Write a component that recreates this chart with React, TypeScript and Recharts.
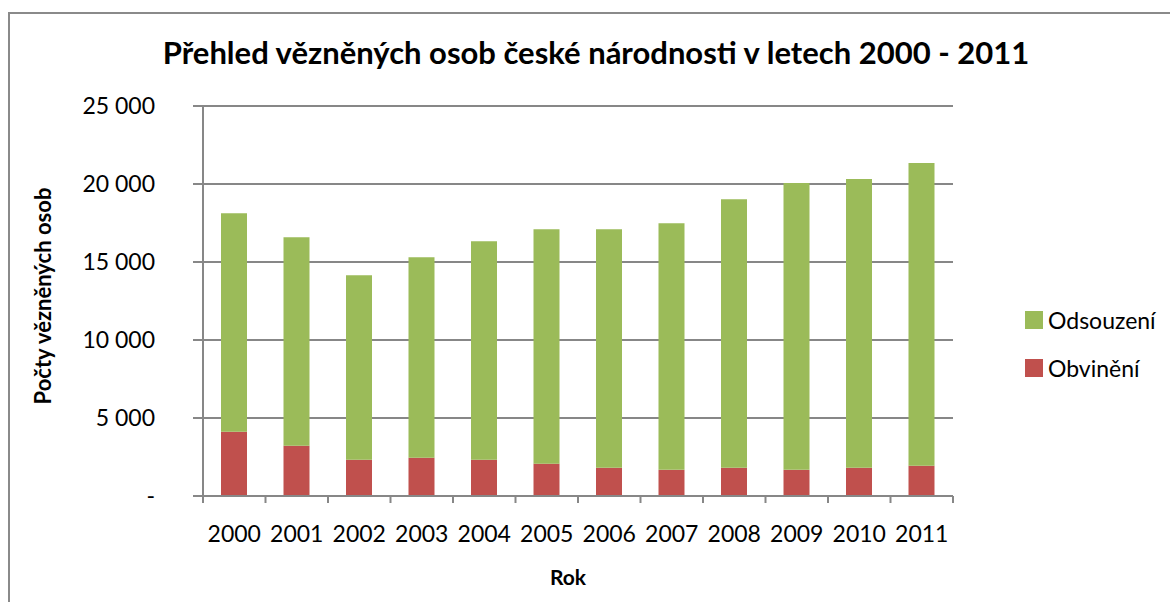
import React from 'react';
import { BarChart, Bar, XAxis, YAxis, CartesianGrid } from 'recharts';

const years = ['2000', '2001', '2002', '2003', '2004', '2005', '2006', '2007', '2008', '2009', '2010', '2011'];
const obvineni = [4120, 3220, 2320, 2450, 2320, 2070, 1810, 1680, 1810, 1680, 1810, 1940];
const odsouzeni = [14010, 13370, 11830, 12860, 14015, 15035, 15295, 15810, 17220, 18380, 18505, 19400];
const yTicks = [0, 5000, 10000, 15000, 20000, 25000];
const legendItems = [
  { name: 'Odsouzení', color: '#9BBB59' },
  { name: 'Obvinění', color: '#C0504D' },
];

const data = years.map((rok, i) => ({ rok, obvineni: obvineni[i], odsouzeni: odsouzeni[i] }));

const W = 1170;
const H = 602;
const PLOT_LEFT = 203;
const PLOT_RIGHT = 953;
const BAND = (PLOT_RIGHT - PLOT_LEFT) / years.length;
const GRID = '#878787';
const FONT = 'Lato, "Open Sans", sans-serif';

const formatY = (v: number) => (v === 0 ? '-' : `${Math.round(v / 1000)} 000`);

const XTick = (props: any) => {
  const { x, y, payload, index } = props;
  const last = index === years.length - 1;
  return (
    <g>
      <line x1={x - BAND / 2} x2={x - BAND / 2} y1={y} y2={y + 7} stroke={GRID} strokeWidth={2} />
      {last && <line x1={x + BAND / 2} x2={x + BAND / 2} y1={y} y2={y + 7} stroke={GRID} strokeWidth={2} />}
      <text x={x} y={y + 46} textAnchor="middle" fontSize={23} fill="#000" fontFamily={FONT}>
        {payload.value}
      </text>
    </g>
  );
};

export default function App() {
  return (
    <div style={{ position: 'absolute', left: 0, top: 0, width: W, height: H, background: '#fff', overflow: 'hidden' }}>
      <div
        style={{
          position: 'absolute',
          left: 8,
          top: 12,
          width: W,
          height: H,
          border: '2px solid #8a8a8a',
        }}
      />
      <div
        style={{
          position: 'absolute',
          left: 0,
          width: 1192,
          top: 33,
          textAlign: 'center',
          fontFamily: FONT,
          fontWeight: 700,
          fontSize: 31,
          color: '#000',
        }}
      >
        Přehled vězněných osob české národnosti v letech 2000 - 2011
      </div>
      <div
        style={{
          position: 'absolute',
          left: 42,
          top: 296,
          transform: 'translate(-50%, -50%) rotate(-90deg)',
          whiteSpace: 'nowrap',
          fontFamily: FONT,
          fontWeight: 700,
          fontSize: 22,
          color: '#000',
        }}
      >
        Počty vězněných osob
      </div>
      <div
        style={{
          position: 'absolute',
          left: 568,
          top: 576,
          transform: 'translate(-50%, -50%)',
          fontFamily: FONT,
          fontWeight: 700,
          fontSize: 21,
          color: '#000',
        }}
      >
        Rok
      </div>
      <div style={{ position: 'absolute', left: 1025, top: 306, fontFamily: FONT, fontSize: 23, color: '#000' }}>
        {legendItems.map((item) => (
          <div key={item.name} style={{ display: 'flex', alignItems: 'center', height: 28, marginBottom: 20 }}>
            <span style={{ width: 18, height: 18, background: item.color, display: 'inline-block', marginRight: 5 }} />
            <span>{item.name}</span>
          </div>
        ))}
      </div>
      <div style={{ position: 'absolute', left: 0, top: 0 }}>
        <BarChart
          width={W}
          height={H}
          data={data}
          margin={{ top: 106, right: W - PLOT_RIGHT, bottom: 46, left: 8 }}
          barSize={26}
        >
          <CartesianGrid vertical={false} stroke={GRID} strokeWidth={2} />
          <XAxis
            dataKey="rok"
            height={60}
            axisLine={{ stroke: GRID, strokeWidth: 2 }}
            tickLine={false}
            tickSize={0}
            tickMargin={0}
            tick={<XTick />}
            interval={0}
          />
          <YAxis
            width={PLOT_LEFT - 8}
            domain={[0, 25000]}
            ticks={yTicks}
            tickFormatter={formatY}
            axisLine={{ stroke: GRID, strokeWidth: 2 }}
            tickLine={{ stroke: GRID, strokeWidth: 2 }}
            tickSize={10}
            tickMargin={38}
            tick={{ fill: '#000', fontSize: 23, fontFamily: FONT }}
          />
          <Bar dataKey="obvineni" name="Obvinění" stackId="a" fill="#C0504D" isAnimationActive={false} />
          <Bar dataKey="odsouzeni" name="Odsouzení" stackId="a" fill="#9BBB59" isAnimationActive={false} />
        </BarChart>
      </div>
    </div>
  );
}
